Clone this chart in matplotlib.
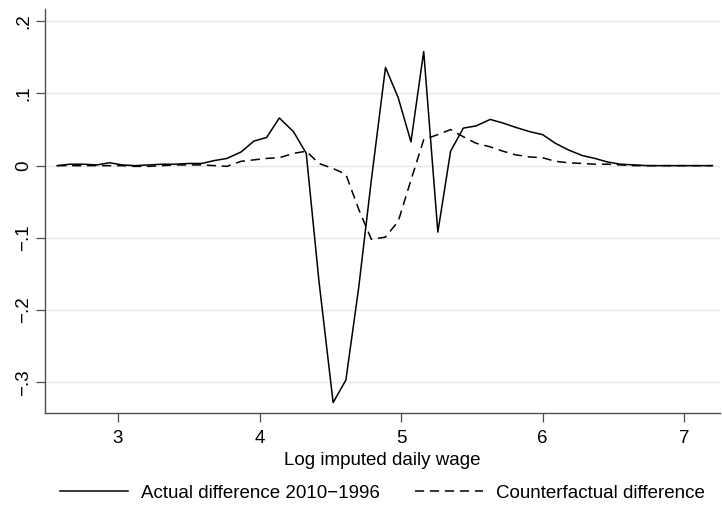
import matplotlib
matplotlib.use('Agg')
import matplotlib.pyplot as plt
from matplotlib.ticker import FixedLocator, FixedFormatter

plt.rcParams['font.family'] = ['Liberation Sans', 'DejaVu Sans']

# log wage bins
wage = [2.57, 2.66, 2.75, 2.85, 2.94, 3.03, 3.12, 3.22, 3.31, 3.40,
        3.50, 3.59, 3.68, 3.77, 3.87, 3.96, 4.05, 4.14, 4.24, 4.33,
        4.42, 4.52, 4.61, 4.70, 4.79, 4.89, 4.98, 5.07, 5.16, 5.26,
        5.35, 5.44, 5.53, 5.63, 5.72, 5.81, 5.91, 6.00, 6.09, 6.18,
        6.28, 6.37, 6.46, 6.55, 6.65, 6.74, 6.83, 6.93, 7.02, 7.11, 7.20]

actual = [0.000, 0.002, 0.002, 0.001, 0.004, 0.001, 0.000, 0.001, 0.002, 0.002,
          0.003, 0.003, 0.007, 0.010, 0.019, 0.034, 0.039, 0.066, 0.047, 0.017,
          -0.160, -0.328, -0.297, -0.170, -0.020, 0.136, 0.094, 0.033, 0.158, -0.092,
          0.020, 0.052, 0.055, 0.064, 0.059, 0.053, 0.047, 0.043, 0.031, 0.022,
          0.014, 0.010, 0.005, 0.002, 0.001, 0.000, 0.000, 0.000, 0.000, 0.000, 0.000]

counterfactual = [0.000, 0.000, 0.000, 0.000, 0.000, 0.000, -0.001, -0.001, 0.000, 0.001,
                  0.001, 0.001, 0.000, -0.001, 0.006, 0.008, 0.010, 0.011, 0.017, 0.020,
                  0.003, -0.004, -0.012, -0.060, -0.102, -0.099, -0.077, -0.020, 0.036, 0.043,
                  0.050, 0.040, 0.031, 0.026, 0.020, 0.015, 0.012, 0.011, 0.006, 0.004,
                  0.003, 0.002, 0.002, 0.001, 0.000, 0.000, 0.000, 0.000, 0.000, 0.000, 0.000]

x_ticks = [3, 4, 5, 6, 7]
y_ticks = [0.2, 0.1, 0.0, -0.1, -0.2, -0.3]
y_ticklabels = ['.2', '.1', '0', '\u2212.1', '\u2212.2', '\u2212.3']

fs = 13.5

fig = plt.figure(figsize=(7.22, 5.08), dpi=100)
ax = fig.add_axes([0.0623, 0.187, 0.935, 0.795])

ax.plot(wage, actual, color='black', linewidth=1.1,
        label='Actual difference 2010\u22121996')
ax.plot(wage, counterfactual, color='black', linewidth=1.1,
        dashes=(6, 3.8), label='Counterfactual difference')

ax.set_xlim(2.484, 7.254)
ax.set_ylim(-0.3425, 0.2167)

ax.yaxis.set_major_locator(FixedLocator(y_ticks))
ax.yaxis.set_major_formatter(FixedFormatter(y_ticklabels))
ax.set_xticks(x_ticks)
ax.grid(axis='y', color='#e6e6e6', linewidth=1.0)
ax.set_axisbelow(True)

for side in ['top', 'right']:
    ax.spines[side].set_visible(False)
for side in ['left', 'bottom']:
    ax.spines[side].set_color('#4d4d4d')
    ax.spines[side].set_linewidth(1.0)

ax.tick_params(axis='both', direction='out', length=6.5, width=0.9,
               color='#4d4d4d', labelsize=fs)
ax.tick_params(axis='x', pad=6)
ax.tick_params(axis='y', pad=3)
for lbl in ax.get_yticklabels():
    lbl.set_rotation(90)
    lbl.set_va('center')

ax.set_xlabel('Log imputed daily wage', fontsize=fs, labelpad=3)

fig.legend(loc='center', bbox_to_anchor=(0.53, 0.0295), ncol=2, frameon=False,
           fontsize=fs, handlelength=3.6, handletextpad=0.7, columnspacing=1.9)

fig.savefig('out.png', dpi=100, facecolor='white')
